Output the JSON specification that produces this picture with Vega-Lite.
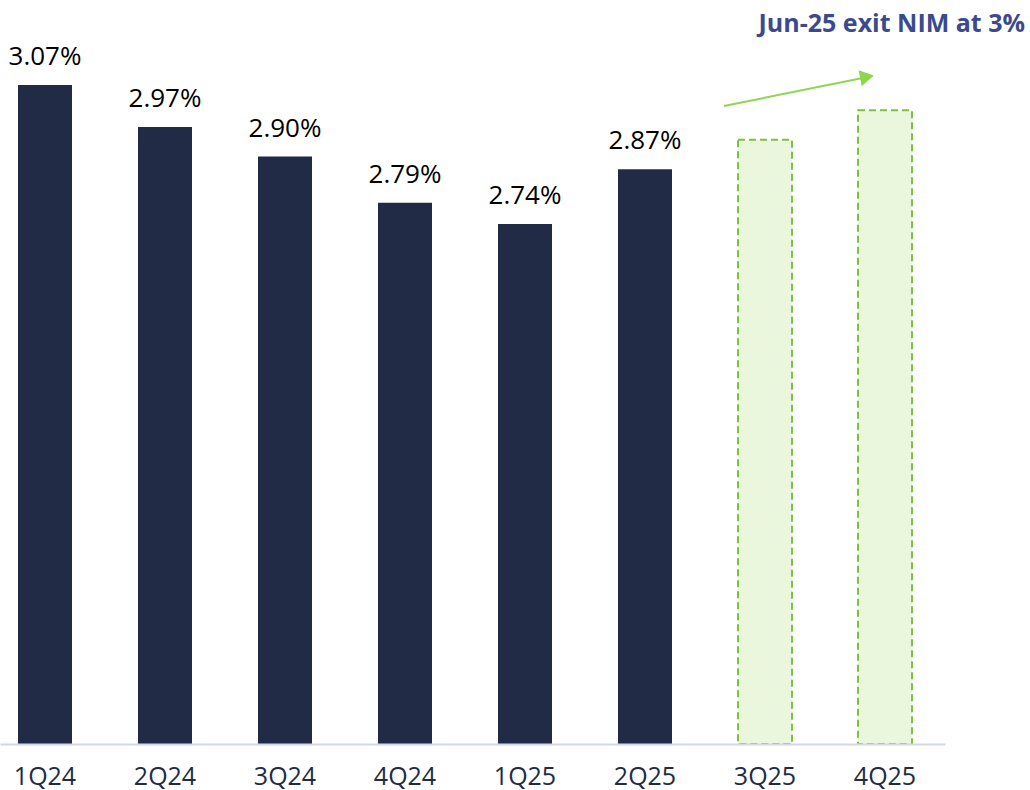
{
  "$schema": "https://vega.github.io/schema/vega-lite/v6.json",
  "autosize": "none",
  "padding": {"top": 50, "left": 0, "right": 85, "bottom": 46},
  "width": 945,
  "height": 694,
  "background": "white",
  "config": {"view": {"stroke": null}, "font": "Open Sans"},
  "title": {
    "text": "Jun-25 exit NIM at 3%",
    "anchor": "end",
    "frame": "group",
    "dx": 80,
    "offset": 7,
    "fontSize": 25,
    "fontWeight": "bold",
    "color": "#3A4A8E",
    "font": "Open Sans"
  },
  "datasets": {
    "nim": [
      {"q": "1Q24", "v": 3.07, "kind": "actual"},
      {"q": "2Q24", "v": 2.97, "kind": "actual"},
      {"q": "3Q24", "v": 2.90, "kind": "actual"},
      {"q": "4Q24", "v": 2.79, "kind": "actual"},
      {"q": "1Q25", "v": 2.74, "kind": "actual"},
      {"q": "2Q25", "v": 2.87, "kind": "actual"},
      {"q": "3Q25", "v": 2.94, "kind": "estimate"},
      {"q": "4Q25", "v": 3.01, "kind": "estimate"}
    ],
    "arrow": [
      {"q1": "3Q25", "y1": 3.02, "q2": "4Q25", "y2": 3.087}
    ],
    "head": [
      {"q": "4Q25", "y": 3.089}
    ]
  },
  "encoding": {
    "x": {
      "field": "q",
      "type": "nominal",
      "sort": null,
      "scale": {"paddingInner": 0.55, "paddingOuter": 0.2125, "align": 0.353},
      "axis": {
        "title": null,
        "labelAngle": 0,
        "ticks": false,
        "domainColor": "#D3D7E8",
        "domainWidth": 2,
        "labelFontSize": 25,
        "labelColor": "#222B45",
        "labelPadding": 20,
        "labelFont": "Open Sans",
        "zindex": 1
      }
    }
  },
  "layer": [
    {
      "data": {"name": "nim"},
      "transform": [{"filter": "datum.kind === 'actual'"}],
      "mark": {"type": "bar", "color": "#222B45"},
      "encoding": {
        "y": {"field": "v", "type": "quantitative", "scale": {"domain": [1.505, 3.153], "zero": false, "nice": false}, "axis": null},
        "y2": {"datum": 1.505}
      }
    },
    {
      "data": {"name": "nim"},
      "transform": [{"filter": "datum.kind === 'estimate'"}],
      "mark": {"type": "bar", "fill": "#EAF7DC", "stroke": "#7CC142", "strokeWidth": 2, "strokeDash": [7, 4]},
      "encoding": {
        "y": {"field": "v", "type": "quantitative"},
        "y2": {"datum": 1.505}
      }
    },
    {
      "data": {"name": "nim"},
      "transform": [
        {"filter": "datum.kind === 'actual'"},
        {"calculate": "format(datum.v, '.2f') + '%'", "as": "label"}
      ],
      "mark": {"type": "text", "baseline": "alphabetic", "dy": -20, "fontSize": 26, "color": "#000000", "font": "Open Sans"},
      "encoding": {
        "y": {"field": "v", "type": "quantitative"},
        "text": {"field": "label"}
      }
    },
    {
      "data": {"name": "arrow"},
      "mark": {"type": "rule", "color": "#8FD650", "strokeWidth": 2},
      "encoding": {
        "x": {"field": "q1", "type": "nominal", "bandPosition": -0.26},
        "x2": {"field": "q2", "bandPosition": 0.11},
        "y": {"field": "y1", "type": "quantitative"},
        "y2": {"field": "y2"}
      }
    },
    {
      "data": {"name": "head"},
      "mark": {"type": "point", "shape": "triangle-right", "filled": true, "color": "#8FD650", "size": 260, "angle": 349, "opacity": 1},
      "encoding": {
        "x": {"field": "q", "type": "nominal", "bandPosition": 0.167},
        "y": {"field": "y", "type": "quantitative"}
      }
    }
  ]
}
